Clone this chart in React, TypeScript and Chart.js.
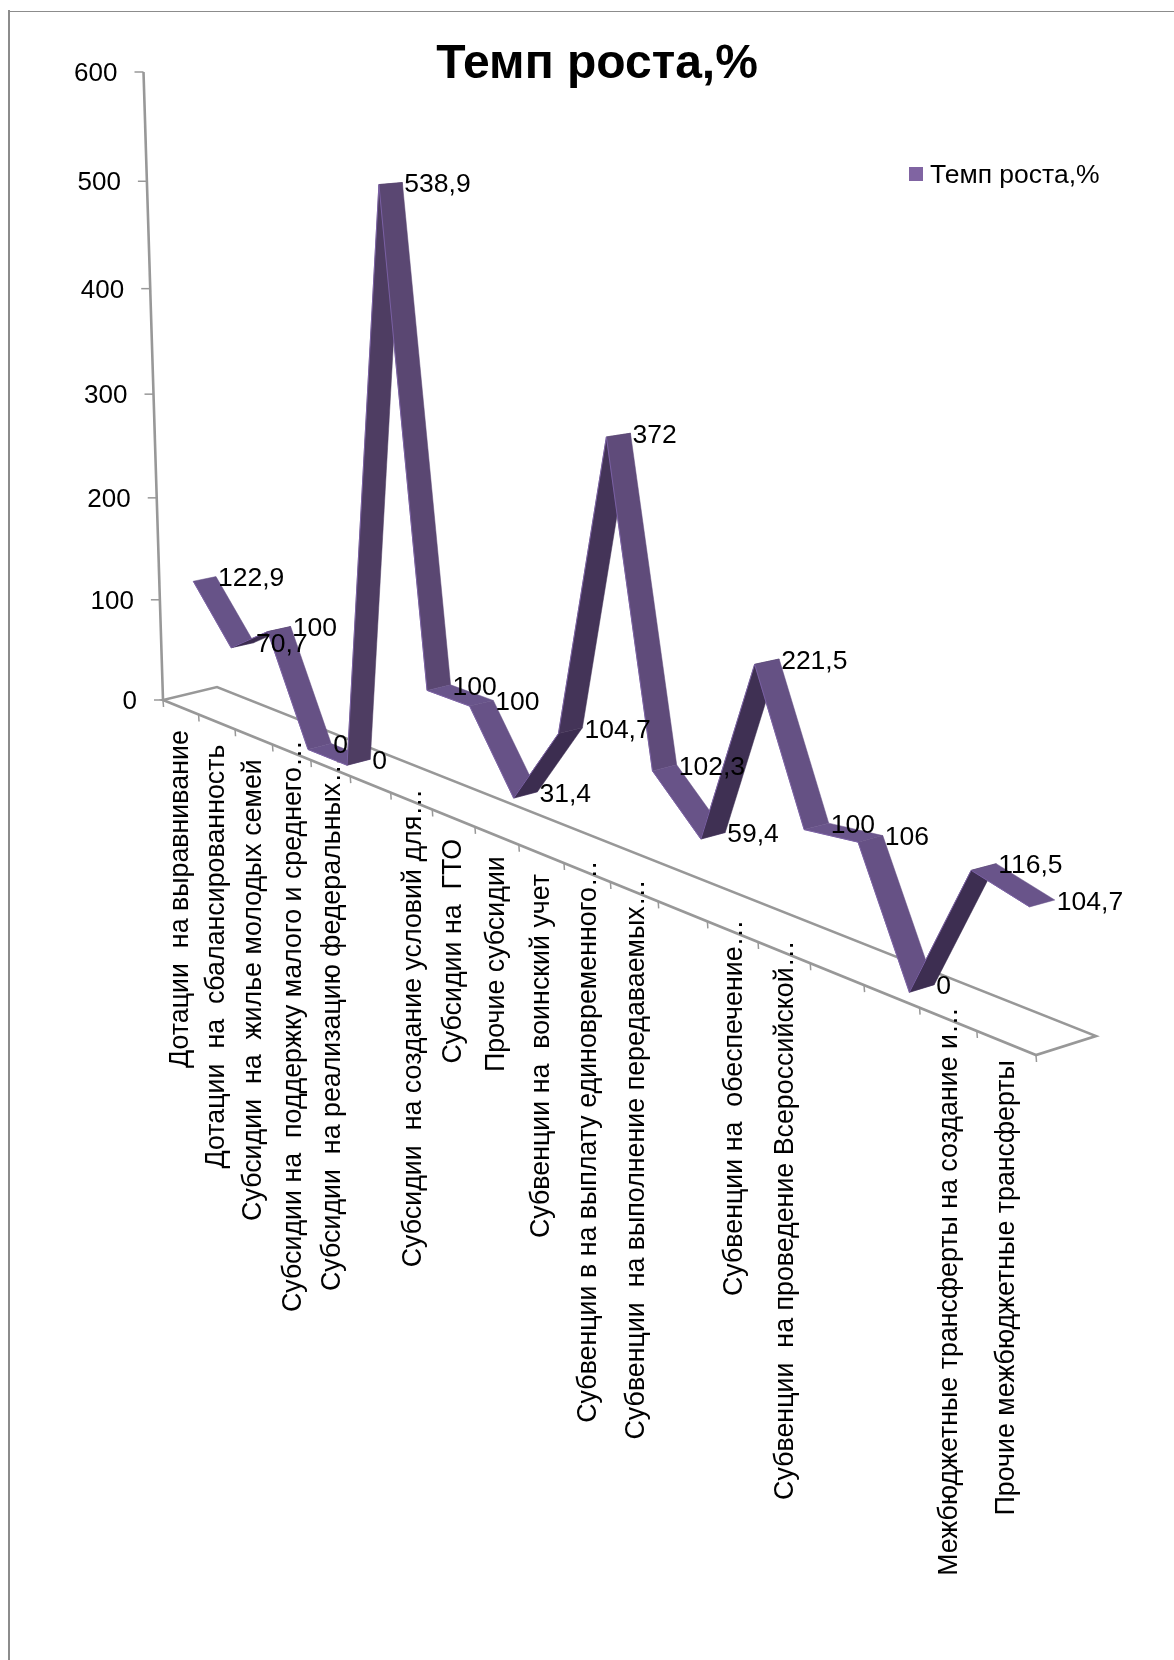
import React, { useEffect, useRef } from "react";
import { Chart, registerables } from "chart.js";

Chart.register(...registerables);

const seriesName = "Темп роста,%";
const categories = [
  "Дотации  на выравнивание",
  "Дотации  на  сбалансированность",
  "Субсидии  на  жилье молодых семей",
  "Субсидии на  поддержку малого и среднего…",
  "Субсидии  на реализацию федеральных…",
  "",
  "Субсидии  на создание условий для…",
  "Субсидии на  ГТО",
  "Прочие субсидии",
  "Субвенции на  воинский учет",
  "Субвенции в на выплату единовременного…",
  "Субвенции  на выполнение передаваемых…",
  "",
  "Субвенции на  обеспечение…",
  "Субвенции  на проведение Всероссийской…",
  "",
  "",
  "Межбюджетные трансферты на создание и…",
  "Прочие межбюджетные трансферты",
];
const values = [122.9, 70.7, 100, 0, 0, 538.9, 100, 100, 31.4, 104.7, 372, 102.3, 59.4, 221.5, 100, 106, 0, 116.5, 104.7];
const valueLabels = ["122,9", "70,7", "100", "0", "0", "538,9", "100", "100", "31,4", "104,7", "372", "102,3", "59,4", "221,5", "100", "106", "0", "116,5", "104,7"];

const FONT = '"Liberation Sans", Arial, sans-serif';
const AXIS = "#989898";

// Perspective of the 3-D plot: unit square (category, value) -> canvas
const P00 = [163, 700];
const P10 = [1036, 1055];
const P01 = [143.5, 72];
const P11 = [1072, 245];
const DEPTH_L = [54, -13];
const DEPTH_R = [60, -19];
const FRONT = 0.3;
const BACK = 0.72;

function makeHomography() {
  const [x0, y0] = P00, [x1, y1] = P10, [x2, y2] = P11, [x3, y3] = P01;
  const dx1 = x1 - x2, dx2 = x3 - x2, sx = x0 - x1 + x2 - x3;
  const dy1 = y1 - y2, dy2 = y3 - y2, sy = y0 - y1 + y2 - y3;
  const den = dx1 * dy2 - dx2 * dy1;
  const g = (sx * dy2 - dx2 * sy) / den;
  const h = (dx1 * sy - sx * dy1) / den;
  const a = x1 - x0 + g * x1, b = x3 - x0 + h * x3;
  const d = y1 - y0 + g * y1, e = y3 - y0 + h * y3;
  return (u: number, v: number, depth = 0) => {
    const w = g * u + h * v + 1;
    const dxv = DEPTH_L[0] + (DEPTH_R[0] - DEPTH_L[0]) * u;
    // seen from above: depth rises less on screen the higher the point is
    const dyv = (DEPTH_L[1] + (DEPTH_R[1] - DEPTH_L[1]) * u) * (1 - 0.75 * v);
    return { x: (x0 + a * u + b * v) / w + depth * dxv, y: (y0 + d * u + e * v) / w + depth * dyv };
  };
}
const project3d = makeHomography();

function uv(chart: any, xPixel: number, yPixel: number) {
  const a = chart.chartArea;
  return { u: (xPixel - a.left) / (a.right - a.left), v: (a.bottom - yPixel) / (a.bottom - a.top) };
}
function projectData(chart: any, xVal: number, yVal: number, depth = 0) {
  const p = uv(chart, chart.scales.x.getPixelForValue(xVal), chart.scales.y.getPixelForValue(yVal));
  return project3d(p.u, p.v, depth);
}
function ribbonPoint(chart: any, i: number, depth: number) {
  const p = projectData(chart, i, values[i], depth);
  return { x: p.x, y: p.y + 1.5 };
}

function shade(top: boolean, steep: number) {
  const t = Math.min(1, steep / 12);
  const lerp = (a: number[], b: number[]) => {
    const c = a.map((v, i) => Math.round(v + (b[i] - v) * t));
    return `rgb(${c[0]},${c[1]},${c[2]})`;
  };
  return top ? lerp([106, 85, 140], [88, 69, 110]) : lerp([58, 43, 78], [78, 61, 98]);
}

const projectionPlugin = {
  id: "projection",
  afterDatasetsUpdate(chart: any) {
    chart.getDatasetMeta(0).data.forEach((pt: any, i: number) => {
      const p = ribbonPoint(chart, i, FRONT);
      pt.x = p.x;
      pt.y = p.y;
    });
  },
  beforeDatasetsDraw(chart: any) {
    const ctx = chart.ctx;
    ctx.save();
    // chart frame: left and top only
    ctx.fillStyle = "#8c8c8c";
    ctx.fillRect(8, 10, 2, 1650);
    ctx.fillRect(8, 11, 1166, 1);

    const N = categories.length;
    const floor = (u: number, d: number) => project3d(u, 0, d);
    ctx.strokeStyle = AXIS;
    ctx.lineWidth = 2.6;
    // value axis
    ctx.beginPath();
    const b = project3d(0, 0), t = project3d(0, 1);
    ctx.moveTo(b.x, b.y);
    ctx.lineTo(t.x, t.y);
    ctx.stroke();
    // floor
    ctx.beginPath();
    const f0 = floor(0, 0), f1 = floor(1, 0), f2 = floor(1, 1), f3 = floor(0, 1);
    ctx.moveTo(f0.x, f0.y);
    ctx.lineTo(f1.x, f1.y);
    ctx.lineTo(f2.x, f2.y);
    ctx.lineTo(f3.x, f3.y);
    ctx.closePath();
    ctx.stroke();
    // category tick marks
    ctx.lineWidth = 1.5;
    for (let k = 0; k <= N; k++) {
      const p = projectData(chart, k - 0.5, 0);
      ctx.beginPath();
      ctx.moveTo(p.x, p.y);
      ctx.lineTo(p.x + 0.5, p.y + 7);
      ctx.stroke();
    }
    // value tick marks and labels
    ctx.fillStyle = "#000";
    ctx.font = `26px ${FONT}`;
    ctx.textAlign = "right";
    ctx.textBaseline = "middle";
    ctx.lineWidth = 1.5;
    for (const tick of chart.scales.y.ticks) {
      const p = projectData(chart, -0.5, tick.value);
      ctx.beginPath();
      ctx.moveTo(p.x - 9, p.y);
      ctx.lineTo(p.x, p.y);
      ctx.stroke();
      ctx.fillText(String(tick.value), p.x - 26, p.y + 2);
    }
    // category labels, read bottom-to-top
    ctx.font = `26.8px ${FONT}`;
    ctx.textBaseline = "middle";
    categories.forEach((label, i) => {
      if (!label) return;
      const p = projectData(chart, i, 0);
      const cut = label.endsWith("…");
      const gap = cut ? -12 : 23 - (6 * i) / categories.length;
      ctx.save();
      ctx.translate(p.x + (cut ? 2 : 0), p.y + gap);
      ctx.rotate(-Math.PI / 2);
      ctx.textAlign = "right";
      ctx.fillText(label, 0, 0);
      ctx.restore();
    });
    // the ribbon
    for (let i = 0; i < N - 1; i++) {
      const a = ribbonPoint(chart, i, FRONT);
      const c = ribbonPoint(chart, i + 1, FRONT);
      const ab = ribbonPoint(chart, i, BACK);
      const cb = ribbonPoint(chart, i + 1, BACK);
      const ex = c.x - a.x, ey = c.y - a.y, dx = ab.x - a.x, dy = ab.y - a.y;
      const top = ex * dy - ey * dx < 0;
      ctx.fillStyle = shade(top, Math.abs(ey / ex));
      ctx.strokeStyle = ctx.fillStyle;
      ctx.lineWidth = 0.5;
      ctx.beginPath();
      ctx.moveTo(a.x, a.y);
      ctx.lineTo(c.x, c.y);
      ctx.lineTo(cb.x, cb.y);
      ctx.lineTo(ab.x, ab.y);
      ctx.closePath();
      ctx.fill();
      ctx.stroke();
    }
    ctx.restore();
  },
  afterDatasetsDraw(chart: any) {
    const ctx = chart.ctx;
    ctx.save();
    ctx.fillStyle = "#000";
    ctx.font = `26.5px ${FONT}`;
    ctx.textAlign = "left";
    ctx.textBaseline = "middle";
    valueLabels.forEach((label, i) => {
      const p = ribbonPoint(chart, i, BACK);
      ctx.fillText(label, p.x + 2, p.y + 2.5);
    });
    // legend
    ctx.fillStyle = "#8064a2";
    ctx.fillRect(909, 167, 14, 14);
    ctx.fillStyle = "#000";
    ctx.fillText(seriesName, 930, 176);
    ctx.restore();
  },
};

export default function App() {
  const ref = useRef<HTMLCanvasElement>(null);
  useEffect(() => {
    const chart = new Chart(ref.current!, {
      type: "line",
      data: {
        labels: categories,
        datasets: [
          {
            label: seriesName,
            data: values,
            borderColor: "#7a60a4",
            backgroundColor: "#8064a2",
            borderWidth: 1,
            pointRadius: 0,
            tension: 0,
            clip: false,
          } as any,
        ],
      },
      options: {
        responsive: false,
        animation: false,
        layout: { padding: { left: 20 } },
        scales: {
          x: { display: false, offset: true, ticks: { autoSkip: false } },
          y: { display: false, min: 0, max: 600, ticks: { stepSize: 100 } },
        },
        plugins: {
          legend: { display: false },
          tooltip: { enabled: false },
          title: {
            display: true,
            text: seriesName,
            color: "#000",
            font: { family: FONT, size: 48, weight: "bold" },
            padding: { top: 36, bottom: 0 },
          },
        },
      },
      plugins: [projectionPlugin],
    });
    return () => chart.destroy();
  }, []);
  return (
    <canvas
      ref={ref}
      width={1174}
      height={1660}
      style={{ position: "absolute", left: 0, top: 0, display: "block" }}
    />
  );
}
